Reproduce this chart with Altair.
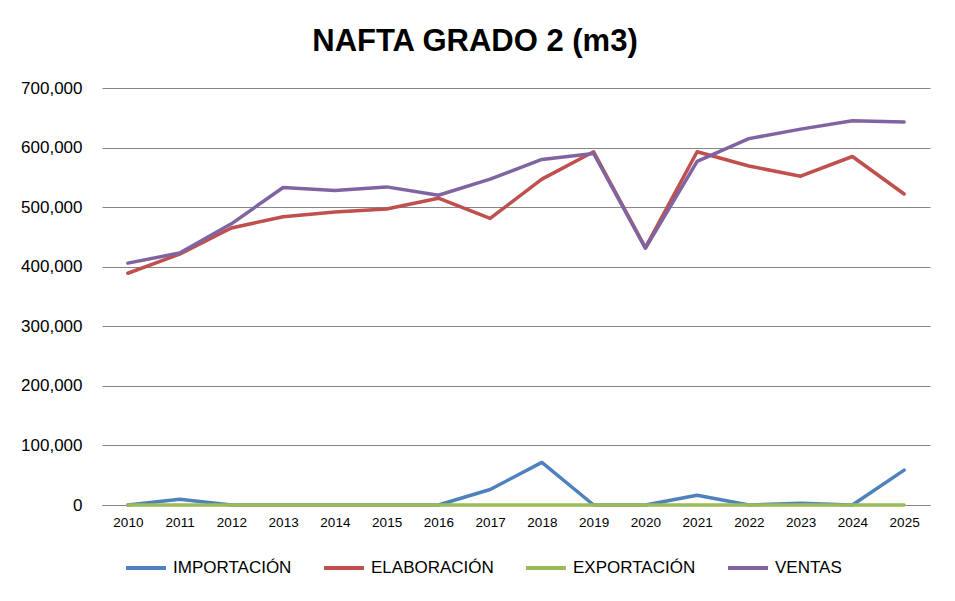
import altair as alt
import pandas as pd

years = [str(y) for y in range(2010, 2026)]
series = ["IMPORTACIÓN", "ELABORACIÓN", "EXPORTACIÓN", "VENTAS"]
importacion = [0, 9500, 0, 0, 0, 0, 0, 26000, 71500, 0, 0, 16500, 0, 3000, 0, 58500]
elaboracion = [389000, 421000, 465000, 484000, 492000, 497000, 515000, 481000,
               547000, 593000, 432000, 593000, 569000, 552000, 585000, 522000]
exportacion = [0] * 16
ventas = [406000, 423000, 472000, 533000, 528000, 534000, 520000, 547000,
          580000, 590000, 431000, 577000, 615000, 631000, 645000, 643000]
y_ticks = [0, 100000, 200000, 300000, 400000, 500000, 600000, 700000]
colors = ["#4F81BD", "#C0504D", "#9BBB59", "#8064A2"]

rows = []
for k, (name, vals) in enumerate(zip(series, [importacion, elaboracion, exportacion, ventas])):
    for y, v in zip(years, vals):
        rows.append({"year": y, "value": v, "serie": name, "ord": k})
df = pd.DataFrame(rows)

FONT = "Liberation Sans"

chart = alt.Chart(df).mark_line(strokeWidth=3.5, strokeCap="round", strokeJoin="round").encode(
    x=alt.X("year:O", scale=alt.Scale(type="point", padding=0.5), sort=years,
            axis=alt.Axis(title=None, labelAngle=0, ticks=False, grid=False,
                          domainColor="#868686", labelFontSize=13.5, labelPadding=10,
                          labelColor="#000000", labelFont=FONT)),
    y=alt.Y("value:Q", scale=alt.Scale(domain=[0, 700000], nice=False, zero=True),
            axis=alt.Axis(title=None, values=y_ticks, labelExpr="format(datum.value, ',')",
                          labelOverlap=False,
                          domain=False, ticks=False, gridColor="#868686", gridWidth=1,
                          labelFontSize=17, labelPadding=20, labelColor="#000000", labelFont=FONT)),
    color=alt.Color("serie:N", scale=alt.Scale(domain=series, range=colors),
                    legend=alt.Legend(title=None, orient="none", direction="horizontal",
                                      legendX=22, legendY=458,
                                      symbolType="stroke", symbolSize=1600, symbolStrokeWidth=4,
                                      labelFontSize=17, labelFont=FONT, labelColor="#000000",
                                      columnPadding=24, labelOffset=5, labelLimit=300)),
    order=alt.Order("ord:Q"),
).properties(
    width=828, height=417,
    title=alt.TitleParams("NAFTA GRADO 2 (m3)", fontSize=31, font=FONT, fontWeight="bold",
                          color="#000000", anchor="middle", offset=21, dx=-41),
    autosize=alt.AutoSizeParams(type="none"),
    padding={"left": 94, "top": 80, "right": 17, "bottom": 80},
    background="#ffffff",
).configure_view(stroke=None)

chart.save("out.html", embed_options={"renderer": "svg", "actions": False})
